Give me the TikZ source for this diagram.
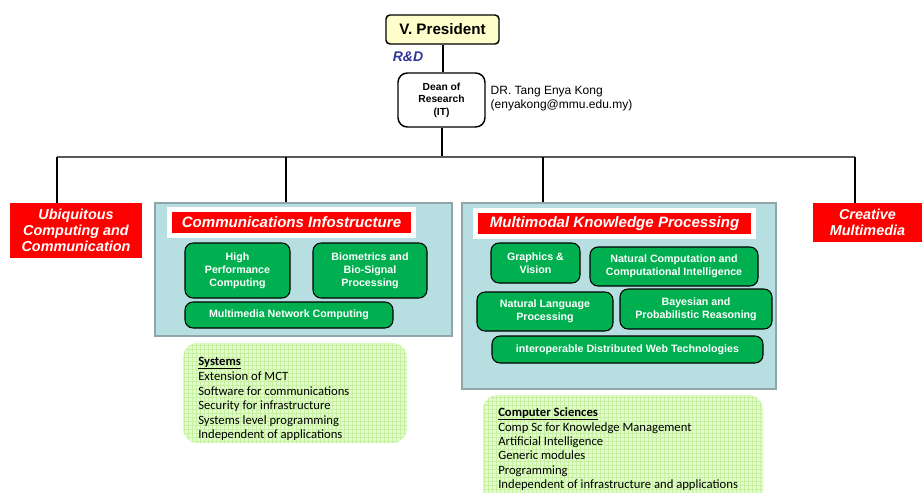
\documentclass[tikz,border=0pt]{standalone}
\usepackage{fontspec}
\setmainfont{Liberation Sans}
\newfontfamily\calibri{Carlito}
\usetikzlibrary{positioning,patterns}

\definecolor{vpyellow}{RGB}{255,255,204}
\definecolor{unitred}{RGB}{255,0,0}
\definecolor{labgreen}{RGB}{0,176,80}
\definecolor{panelteal}{RGB}{183,222,225}
\definecolor{panelgrey}{RGB}{142,166,170}
\definecolor{meshfill}{RGB}{228,250,210}
\definecolor{meshline}{RGB}{198,242,160}
\definecolor{rdblue}{RGB}{51,51,153}
\definecolor{busgrey}{RGB}{90,90,90}

% heading of a note, underlined close to the baseline
\newcommand{\noteheading}[1]{\vphantom{S}\underline{\smash{\textbf{#1}}}}

\tikzset{
  headbox/.style={draw=black, line width=1.1pt, rounded corners=3pt, fill=vpyellow, inner sep=0pt, font=\bfseries\fontsize{11.4}{13}\selectfont},
  deanbox/.style={draw=black, line width=1.1pt, rounded corners=7pt, fill=white, align=center, inner sep=0pt, font=\bfseries\fontsize{7.7}{9.4}\selectfont},
  unitbox/.style={fill=unitred, text=white, align=center, inner sep=0pt, font=\bfseries\itshape\fontsize{10.8}{12}\selectfont},
  panel/.style={draw=panelgrey, line width=1.5pt, fill=panelteal, inner sep=0pt},
  bannerbox/.style={fill=unitred, draw=white, line width=3.75pt, text=white, inner sep=0pt, font=\bfseries\itshape\fontsize{11.3}{13}\selectfont},
  labbox/.style={draw=black, line width=0.8pt, fill=labgreen, rounded corners=6pt, text=white, align=center, inner sep=0pt, font=\bfseries\fontsize{8}{9.75}\selectfont},
  notebox/.style={rounded corners=11pt, preaction={fill=meshfill}, pattern=grid, pattern color=meshline},
  notetext/.style={anchor=north west, align=left, inner sep=0pt, font=\calibri\fontsize{9.5}{10.9}\selectfont},
  link/.style={line width=1.5pt},
  bus/.style={draw=busgrey, line width=1.5pt}
}

\begin{document}
\begin{tikzpicture}[x=0.75pt, y=-0.75pt]
    \useasboundingbox (0,0) rectangle (922,493);
    % top of the tree
    \node[headbox, minimum width=84.75pt, minimum height=21.75pt] (vp) at (442.5,29.5) {V. President};
    \node[text=rdblue, font=\bfseries\itshape\fontsize{10.5}{12}\selectfont] (rnd) at (408,57) {R\&D};
    \node[deanbox, minimum width=65.25pt, minimum height=40.5pt] (dean) at (441.5,100) {Dean of\\Research\\(IT)};
    \node[anchor=west, align=left, font=\fontsize{9}{10.5}\selectfont] (deanname) at (486,99) {DR. Tang Enya Kong\\(enyakong@mmu.edu.my)};

    % units
    \node[unitbox, minimum width=99pt, minimum height=41.25pt] (ubi) at (76,230.5) {Ubiquitous\\Computing and\\Communication};
    \node[unitbox, minimum width=81.75pt, minimum height=29.25pt] (creative) at (867.5,222.5) {Creative\\Multimedia};

    % communications panel
    \node[panel, minimum width=222.75pt, minimum height=99.75pt] (comm) at (303.5,269.5) {};
    \node[bannerbox, minimum width=183pt, minimum height=19.5pt] (commtitle) at (291.5,222.5) {Communications Infostructure};
    \node[labbox, minimum width=78.75pt, minimum height=41.25pt] (hpc) at (237.5,270.5) {High\\Performance\\Computing};
    \node[labbox, minimum width=85.5pt, minimum height=41.25pt] (bio) at (370,270.5) {Biometrics and\\Bio-Signal\\Processing};
    \node[labbox, minimum width=156pt, minimum height=19.5pt] (mnc) at (289,315) {Multimedia Network Computing};

    % multimodal panel
    \node[panel, minimum width=235.5pt, minimum height=139.5pt] (mkp) at (619,296) {};
    \node[bannerbox, minimum width=208.5pt, minimum height=19.5pt] (mkptitle) at (614.5,223.5) {Multimodal Knowledge Processing};
    \node[labbox, minimum width=66.75pt, minimum height=30pt] (gfx) at (535.5,263) {Graphics \&\\Vision};
    \node[labbox, minimum width=126pt, minimum height=29.25pt] (natcomp) at (674,266.5) {Natural Computation and\\Computational Intelligence};
    \node[labbox, minimum width=102pt, minimum height=29.25pt] (nlp) at (545,311.5) {Natural Language\\Processing};
    \node[labbox, minimum width=114pt, minimum height=30pt] (bayes) at (696,309) {Bayesian and\\Probabilistic Reasoning};
    \node[labbox, minimum width=203.25pt, minimum height=20.25pt] (webtech) at (627.5,349.5) {interoperable Distributed Web Technologies};

    % notes
    \path[notebox] (183,343) rectangle (407,443);
    \node[notetext] (sysnote) at (198,357.5)
        {\noteheading{Systems}\\Extension of MCT\\Software for communications\\Security for infrastructure\\Systems level programming\\Independent of applications};
    \path[notebox] (483,395) rectangle (763,505);
    \node[notetext, font=\calibri\fontsize{9.5}{10.7}\selectfont] (csnote) at (498,408.5)
        {\noteheading{Computer Sciences}\\Comp Sc for Knowledge Management\\Artificial Intelligence\\Generic modules\\Programming\\Independent of infrastructure and applications};

    % connectors
    \coordinate (busL) at (57,157);
    \coordinate (busR) at (855,157);
    \coordinate (commdrop) at (286,157);
    \coordinate (mkpdrop) at (543,157);
    \draw[link] (vp.south) -- (vp.south |- dean.north);
    \draw[link] (dean.south) -- (dean.south |- busL);
    \draw[bus] (busL) -- (busR);
    \draw[link] (busL) -- (busL |- ubi.north);
    \draw[link] (commdrop) -- (commdrop |- comm.north);
    \draw[link] (mkpdrop) -- (mkpdrop |- mkp.north);
    \draw[link] (busR) -- (busR |- creative.north);
\end{tikzpicture}
\end{document}
